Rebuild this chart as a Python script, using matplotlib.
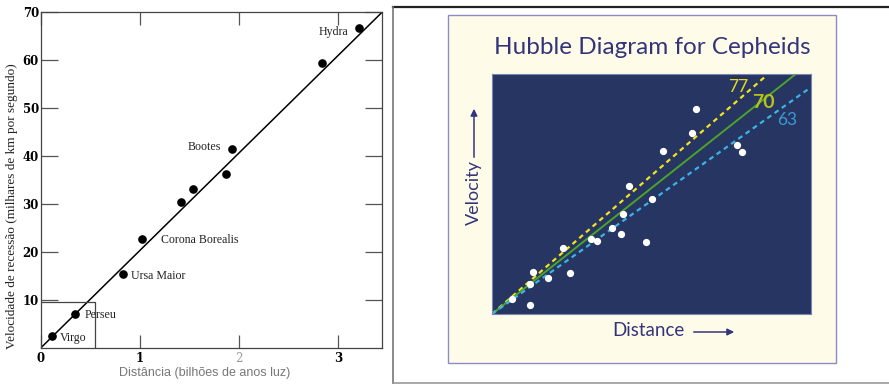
import matplotlib.pyplot as plt
from matplotlib.lines import Line2D
from matplotlib.patches import Rectangle, FancyArrowPatch

# Left diagram: galaxy clusters, distance (billions of light years) vs recession velocity
galaxias = ["Virgo", "Perseu", "Ursa Maior", "Corona Borealis", "", "", "", "Bootes", "", "Hydra"]
distancia = [0.11, 0.34, 0.83, 1.02, 1.41, 1.54, 1.87, 1.93, 2.84, 3.21]
velocidade = [2.4, 7.0, 15.3, 22.7, 30.5, 33.1, 36.3, 41.5, 59.4, 66.7]
x_max = 3.444
y_max = 70

# Right diagram: Cepheid distances (Mpc) vs velocities (km/s)
cef_dist = [1.9, 3.6, 3.6, 3.9, 5.3, 7.3, 6.7, 9.3, 9.9, 11.3,
            12.1, 12.3, 12.9, 14.5, 15.0, 16.1, 18.8, 19.2, 23.0, 23.5]
cef_vel = [128, 75, 252, 350, 300, 339, 552, 628, 608, 719,
           664, 831, 1067, 602, 956, 1358, 1511, 1708, 1406, 1348]
hubble_consts = [77, 70, 63]
line_ends = [25.6, 28.6, 29.7]

W, H = 889, 384
fig = plt.figure(figsize=(W / 100, H / 100), dpi=100)
fig.patch.set_facecolor("white")


def fx(px):
    return px / W


def fy(py):
    return 1 - py / H


# ---------------- left panel ----------------
ax1 = fig.add_axes([fx(41), fy(347.7), fx(382 - 41), (347.7 - 12.3) / H])
ax1.set_xlim(0, x_max)
ax1.set_ylim(0, y_max)
ax1.plot([0, x_max], [0, y_max], color="black", lw=1.1)
ax1.plot(distancia, velocidade, "o", color="black", ms=5.2)

offsets = {
    "Hydra": (-7.5, -2.7, "right"),
    "Bootes": (-8, 1.0, "right"),
    "Corona Borealis": (13.5, -1.0, "left"),
    "Ursa Maior": (5.3, -1.0, "left"),
    "Perseu": (7.0, -0.5, "left"),
    "Virgo": (6.0, -1.0, "left"),
}
for nome, x, y in zip(galaxias, distancia, velocidade):
    if not nome:
        continue
    dx, dy, ha = offsets[nome]
    ax1.annotate(nome, (x, y), xytext=(dx, dy), textcoords="offset points",
                 ha=ha, va="center", fontsize=8.6, family="Liberation Serif",
                 color="#222222")

# small box around the nearby clusters
ax1.plot([0, 0.545, 0.545], [9.5, 9.5, 0], color="#444444", lw=0.9)

for s in ax1.spines.values():
    s.set_color("#444444")
    s.set_linewidth(0.9)
ax1.set_yticks([10, 20, 30, 40, 50, 60, 70])
ax1.set_xticks([0, 1, 2, 3])
ax1.tick_params(axis="y", direction="in", length=12, width=0.9, color="#555555",
                left=True, right=True, pad=1.5, labelsize=8.5)
ax1.tick_params(axis="x", direction="in", length=9.5, width=0.9, color="#555555",
                top=True, bottom=True, pad=3.0, labelsize=8.5)
for lab in ax1.get_xticklabels() + ax1.get_yticklabels():
    lab.set_family("DejaVu Serif")
    lab.set_fontweight("bold")
ax1.get_xticklabels()[2].set_color("#999999")
ax1.get_xticklabels()[2].set_fontweight("normal")

fig.text(fx(205), fy(372.7), "Distância (bilhões de anos luz)", ha="center", va="center",
         fontsize=9, family="Liberation Sans", color="#777777")
fig.text(fx(12.3), fy(206), "Velocidade de recessão (milhares de km por segundo)",
         rotation=90, ha="center", va="center", fontsize=9.5,
         family="Liberation Serif", color="#222222")

# ---------------- right panel ----------------
fig.add_artist(Line2D([fx(393), 1], [fy(7), fy(7)], color="#222222", lw=1.6))
fig.add_artist(Line2D([fx(393), fx(393)], [fy(7), 0], color="#777777", lw=1.2))
fig.add_artist(Line2D([fx(393), 1], [fy(383), fy(383)], color="#999999", lw=1.2))

card = Rectangle((fx(448), fy(363)), fx(836 - 448), (363 - 15) / H,
                 facecolor="#fefce8", edgecolor="#8c8cc4", lw=1.0, zorder=-1)
fig.add_artist(card)

navy = "#263562"
title_col = "#34347c"
fig.text(fx(652), fy(48), "Hubble Diagram for Cepheids", ha="center", va="center",
         fontsize=17.5, family="Lato", color=title_col)

ax2 = fig.add_axes([fx(492), fy(314), fx(319), 240 / H])
ax2.set_zorder(1)
ax2.set_facecolor(navy)
ax2.set_xlim(0, 30)
ax2.set_ylim(0, 2000)
ax2.set_xticks([])
ax2.set_yticks([])
for s in ax2.spines.values():
    s.set_color("#7886b4")
    s.set_linewidth(0.8)

line_styles = {
    77: dict(color="#f3e31c", lw=1.6, ls=(0, (2.2, 1.8))),
    70: dict(color="#4aa42a", lw=1.4, ls="-"),
    63: dict(color="#3cb3e6", lw=1.6, ls=(0, (2.2, 1.8))),
}
for h0, xe in zip(hubble_consts, line_ends):
    ax2.plot([0, xe], [0, h0 * xe], **line_styles[h0])

ax2.plot(cef_dist, cef_vel, "o", color="white", ms=4.2, zorder=5)

label_pos = {77: (738, 86.7), 70: (763, 102.7), 63: (787, 120)}
label_style = {
    77: dict(color="#e6d820", fontsize=12.5, fontweight="normal"),
    70: dict(color="#b5c21c", fontsize=14, fontweight="bold"),
    63: dict(color="#3a9ad0", fontsize=12.5, fontweight="normal"),
}
for h0 in hubble_consts:
    px, py = label_pos[h0]
    fig.text(fx(px), fy(py), str(h0), ha="center", va="center", family="Lato",
             zorder=3, **label_style[h0])

# axis captions with arrows
fig.text(fx(474), fy(193), "Velocity", rotation=90, ha="center", va="center",
         fontsize=13, family="Lato", color=title_col)
fig.add_artist(FancyArrowPatch((fx(474), fy(160)), (fx(474), fy(106)),
                               transform=fig.transFigure, arrowstyle="-|>",
                               mutation_scale=10, color=title_col, lw=1.1))
fig.text(fx(648), fy(330.7), "Distance", ha="center", va="center",
         fontsize=13.5, family="Lato", color=title_col)
fig.add_artist(FancyArrowPatch((fx(691), fy(332)), (fx(737), fy(332)),
                               transform=fig.transFigure, arrowstyle="-|>",
                               mutation_scale=10, color=title_col, lw=1.1))

fig.savefig("out.png", dpi=100)
